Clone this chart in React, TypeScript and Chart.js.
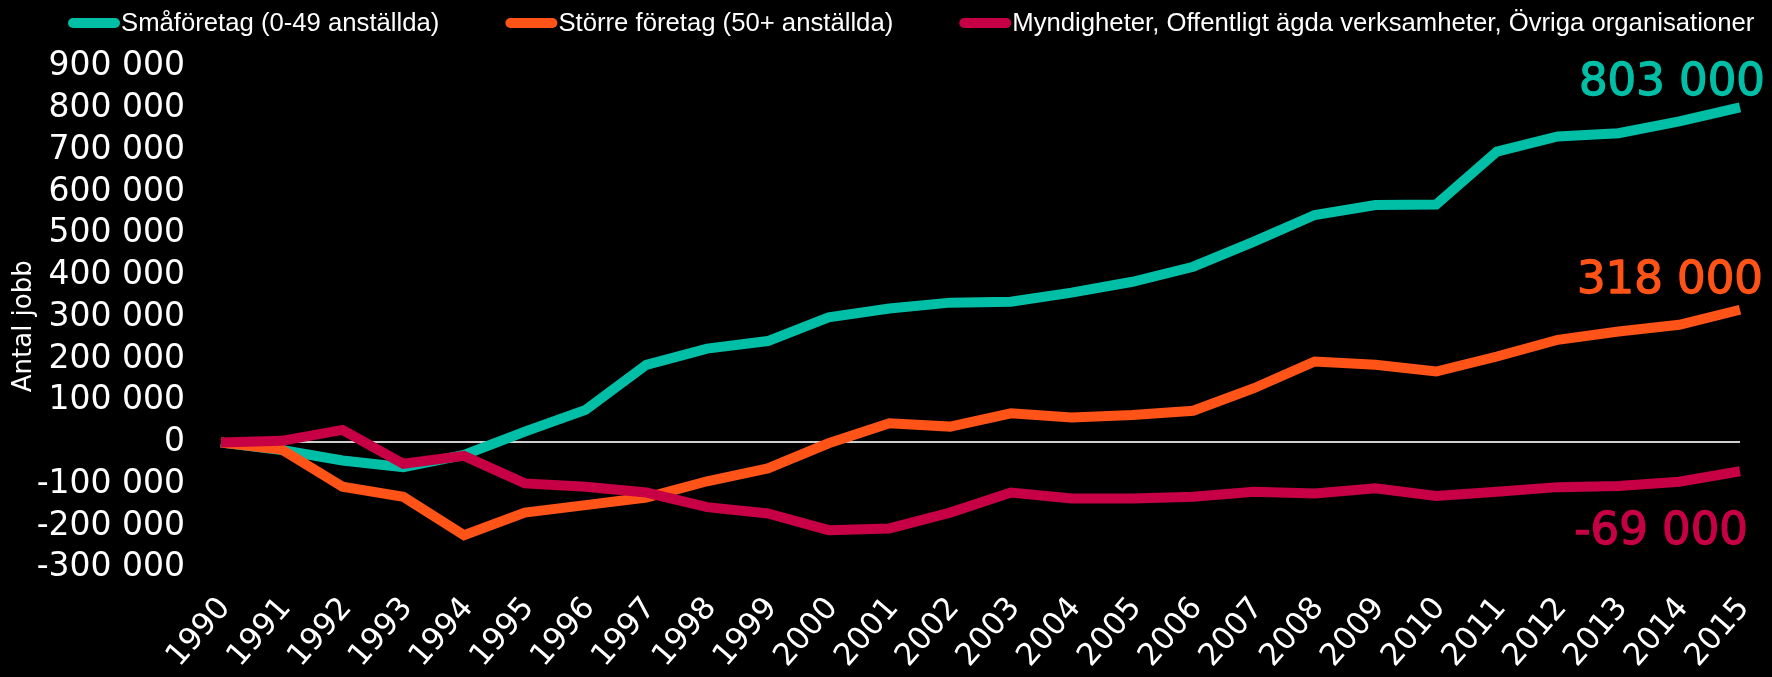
import React, { useEffect, useRef } from "react";
import { Chart, registerables } from "chart.js";

Chart.register(...registerables);

const years = [
  "1990", "1991", "1992", "1993", "1994", "1995", "1996", "1997", "1998", "1999",
  "2000", "2001", "2002", "2003", "2004", "2005", "2006", "2007", "2008", "2009",
  "2010", "2011", "2012", "2013", "2014", "2015",
];

const smallCompanies = [
  0, -18000, -43000, -59000, -30000, 26000, 78000, 186000, 225000, 243000,
  300000, 321000, 335000, 337000, 359000, 385000, 421000, 481000, 545000, 569000,
  570000, 697000, 733000, 741000, 769000, 803000,
];

const largeCompanies = [
  0, -17000, -106000, -130000, -222000, -168000, -150000, -132000, -93000, -62000,
  -2000, 46000, 38000, 70000, 60000, 66000, 76000, 130000, 194000, 186000,
  170000, 206000, 246000, 266000, 282000, 318000,
];

const publicSector = [
  0, 4000, 30000, -51000, -32000, -98000, -106000, -120000, -155000, -170000,
  -210000, -206000, -168000, -120000, -134000, -134000, -130000, -118000, -122000, -110000,
  -128000, -118000, -107000, -104000, -94000, -69000,
];

const seriesLabels = [
  "Småföretag (0-49 anställda)",
  "Större företag (50+ anställda)",
  "Myndigheter, Offentligt ägda verksamheter, Övriga organisationer",
];

const seriesColors = ["#00BFA6", "#FF5317", "#C70046"];

const yMin = -300000;
const yMax = 900000;
const yStep = 100000;
const yTitle = "Antal jobb";

const fmt = (v: number) => {
  const neg = v < 0;
  const s = Math.round(Math.abs(v)).toString().replace(/\B(?=(\d{3})+(?!\d))/g, " ");
  return (neg ? "-" : "") + s;
};

const FONT = '"DejaVu Sans", "Noto Sans", sans-serif';

const endLabelDx = [25, 23, 8];
const endLabelDy = [-24, -28, 61];

const bgPlugin = {
  id: "bg",
  beforeDraw(chart: any) {
    const { ctx, width, height } = chart;
    ctx.save();
    ctx.fillStyle = "#000";
    ctx.fillRect(0, 0, width, height);
    ctx.restore();
  },
};

const legendPlugin = {
  id: "customLegend",
  afterDraw(chart: any) {
    const ctx = chart.ctx;
    ctx.save();
    ctx.font = '25.7px "Liberation Sans", Arial, sans-serif';
    ctx.textBaseline = "middle";
    ctx.textAlign = "left";
    let x = 68;
    const y = 23;
    chart.data.datasets.forEach((ds: any) => {
      ctx.fillStyle = ds.borderColor;
      ctx.beginPath();
      ctx.roundRect(x, y - 5, 52, 10, 5);
      ctx.fill();
      x += 53;
      ctx.fillStyle = "#ffffff";
      ctx.fillText(ds.label, x, y + 1);
      x += ctx.measureText(ds.label).width + 66;
    });
    ctx.restore();
  },
};

const yTitlePlugin = {
  id: "yTitle",
  afterDraw(chart: any) {
    const ctx = chart.ctx;
    const area = chart.chartArea;
    ctx.save();
    ctx.font = `26px ${FONT}`;
    ctx.fillStyle = "#ffffff";
    ctx.textAlign = "center";
    ctx.textBaseline = "middle";
    ctx.translate(24, (area.top + area.bottom) / 2 + 9);
    ctx.rotate(-Math.PI / 2);
    ctx.fillText(yTitle, 0, 0);
    ctx.restore();
  },
};

const endLabelPlugin = {
  id: "endLabels",
  afterDatasetsDraw(chart: any) {
    const ctx = chart.ctx;
    ctx.save();
    ctx.font = `45px ${FONT}`;
    ctx.textAlign = "right";
    ctx.textBaseline = "middle";
    ctx.lineWidth = 1.3;
    ctx.lineJoin = "round";
    chart.data.datasets.forEach((ds: any, i: number) => {
      const meta = chart.getDatasetMeta(i);
      const pt = meta.data[meta.data.length - 1];
      if (!pt) return;
      const val = ds.data[ds.data.length - 1];
      ctx.fillStyle = ds.borderColor;
      ctx.strokeStyle = ds.borderColor;
      const tx = pt.x + endLabelDx[i];
      const ty = pt.y + endLabelDy[i];
      ctx.fillText(fmt(val), tx, ty);
      ctx.strokeText(fmt(val), tx, ty);
    });
    ctx.restore();
  },
};

export default function App() {
  const canvasRef = useRef<HTMLCanvasElement | null>(null);

  useEffect(() => {
    document.body.style.margin = "0";
    document.body.style.background = "#000";
    const canvas = canvasRef.current;
    if (!canvas) return;
    const seriesData = [smallCompanies, largeCompanies, publicSector];
    const orders = [3, 2, 1];
    const chart = new Chart(canvas, {
      type: "line",
      data: {
        labels: years,
        datasets: seriesData.map((d, i) => ({
          label: seriesLabels[i],
          data: d,
          borderColor: seriesColors[i],
          backgroundColor: seriesColors[i],
          borderWidth: 10,
          pointRadius: 0,
          pointHoverRadius: 0,
          tension: 0,
          borderJoinStyle: "miter" as const,
          borderCapStyle: "butt" as const,
          fill: false,
          order: orders[i],
        })),
      },
      options: {
        responsive: false,
        maintainAspectRatio: false,
        animation: false,
        layout: { padding: { top: 66.8, right: 32, left: 0, bottom: 0 } },
        plugins: {
          legend: { display: false },
          tooltip: { enabled: false },
          title: { display: false },
        },
        scales: {
          x: {
            type: "category",
            offset: false,
            grid: { display: false, drawTicks: false },
            border: { display: false },
            ticks: {
              color: "#ffffff",
              font: { family: FONT, size: 31 },
              minRotation: 49,
              maxRotation: 49,
              autoSkip: false,
              padding: 23,
              labelOffset: 4,
            },
            afterFit(scale: any) {
              scale.height = 109.3;
              scale.paddingLeft = 0;
              scale.paddingRight = 0;
            },
          },
          y: {
            min: yMin,
            max: yMax,
            grid: {
              drawTicks: false,
              lineWidth: 2,
              color: (c: any) => (c.tick && c.tick.value === 0 ? "#cfcfcf" : "rgba(0,0,0,0)"),
            },
            border: { display: false },
            ticks: {
              stepSize: yStep,
              autoSkip: false,
              color: "#ffffff",
              font: { family: FONT, size: 33 },
              padding: 36,
              callback: (v: any) => fmt(Number(v)),
            },
            title: { display: false },
            afterFit(scale: any) {
              scale.width = 221;
            },
          },
        },
      },
      plugins: [bgPlugin, endLabelPlugin, legendPlugin, yTitlePlugin],
    });
    return () => chart.destroy();
  }, []);

  return (
    <div style={{ width: 1772, height: 677, background: "#000" }}>
      <canvas ref={canvasRef} width={1772} height={677} style={{ display: "block" }} />
    </div>
  );
}
